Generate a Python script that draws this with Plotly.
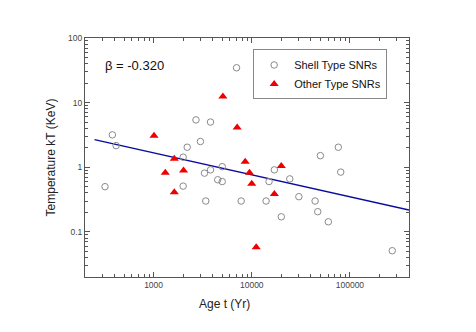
import numpy as np
import plotly.graph_objects as go

# Shell type SNRs (age in yr, temperature in keV)
shell_age = [320, 380, 415, 2000, 2000, 2200, 2700, 3000, 3300, 3400, 3800, 3800,
             4500, 5000, 5000, 7000, 7800, 14000, 15000, 17000, 20000, 24400,
             30200, 44200, 47000, 50000, 60300, 76200, 80600, 270000]
shell_kT = [0.50, 3.17, 2.16, 1.43, 0.51, 2.04, 5.4, 2.5, 0.81, 0.30, 5.0, 0.91,
            0.64, 0.60, 1.02, 34.6, 0.30, 0.30, 0.60, 0.91, 0.171, 0.66,
            0.35, 0.30, 0.205, 1.51, 0.143, 2.04, 0.84, 0.051]

# Other type SNRs
other_age = [1010, 1315, 1625, 1625, 2018, 5080, 7100, 8570, 9480, 10000, 11100, 17000, 20000]
other_kT = [3.06, 0.82, 1.35, 0.41, 0.886, 12.4, 4.11, 1.22, 0.82, 0.557, 0.0575, 0.385, 1.04]

# Power-law fit  kT = 10**fit_logA * t**fit_slope
fit_slope = -0.34
fit_logA = 1.242
fit_age_range = [250, 400000]
beta_label = "β = -0.320"

x_tickvals = [1000, 10000, 100000]
x_ticktext = ["1000", "10000", "100000"]
y_tickvals = [0.1, 1, 10, 100]
y_ticktext = ["0.1", "1", "10", "100"]

fit_x = np.logspace(np.log10(fit_age_range[0]), np.log10(fit_age_range[1]), 50)
fit_y = 10 ** fit_logA * fit_x ** fit_slope

FONT = "Liberation Sans, Arial, sans-serif"

fig = go.Figure()
fig.add_trace(go.Scatter(
    x=fit_x, y=fit_y, mode="lines", line=dict(color="#0a0a9e", width=1.4),
    showlegend=False, hoverinfo="skip"))
fig.add_trace(go.Scatter(
    x=shell_age, y=shell_kT, mode="markers", name="Shell Type SNRs",
    marker=dict(symbol="circle-open", size=6.5, color="#8a8a8a", line=dict(width=1))))
fig.add_trace(go.Scatter(
    x=other_age, y=other_kT, mode="markers", name="Other Type SNRs",
    marker=dict(symbol="triangle-up", size=8, color="#ee0000", line=dict(width=0))))

axis_common = dict(
    type="log", showgrid=False, zeroline=False, showline=True, linecolor="#555",
    linewidth=1, mirror="ticks", ticks="inside", ticklen=5, tickcolor="#555",
    tickfont=dict(family=FONT, size=8.5, color="#444"),
    minor=dict(ticks="inside", ticklen=3, tickcolor="#555", dtick="D1", showgrid=False),
)

fig.update_xaxes(**axis_common, range=[np.log10(200), np.log10(400000)],
                 tickvals=x_tickvals, ticktext=x_ticktext)
fig.update_yaxes(**axis_common, range=[np.log10(0.02), 2],
                 tickvals=y_tickvals, ticktext=y_ticktext,
                 title=dict(text="Temperature kT (KeV)", standoff=9,
                            font=dict(family=FONT, size=12, color="#222")))

fig.add_annotation(text=beta_label, xref="paper", yref="paper", x=0.055, y=0.886,
                   xanchor="left", yanchor="middle", showarrow=False,
                   font=dict(family=FONT, size=13, color="#111"))
fig.add_annotation(text="Age t (Yr)", xref="paper", yref="paper", x=0.43, y=-0.113,
                   xanchor="center", yanchor="middle", showarrow=False,
                   font=dict(family=FONT, size=12, color="#222"))

fig.update_layout(
    width=476, height=332, margin=dict(l=77, r=75, t=30, b=63),
    paper_bgcolor="white", plot_bgcolor="white",
    legend=dict(x=0.519, y=0.952, xanchor="left", yanchor="top", bgcolor="white",
                bordercolor="#888", borderwidth=1,
                font=dict(family=FONT, size=11, color="#111"),
                itemwidth=30, tracegroupgap=0),
    showlegend=True,
)

fig.write_html("out.html")
